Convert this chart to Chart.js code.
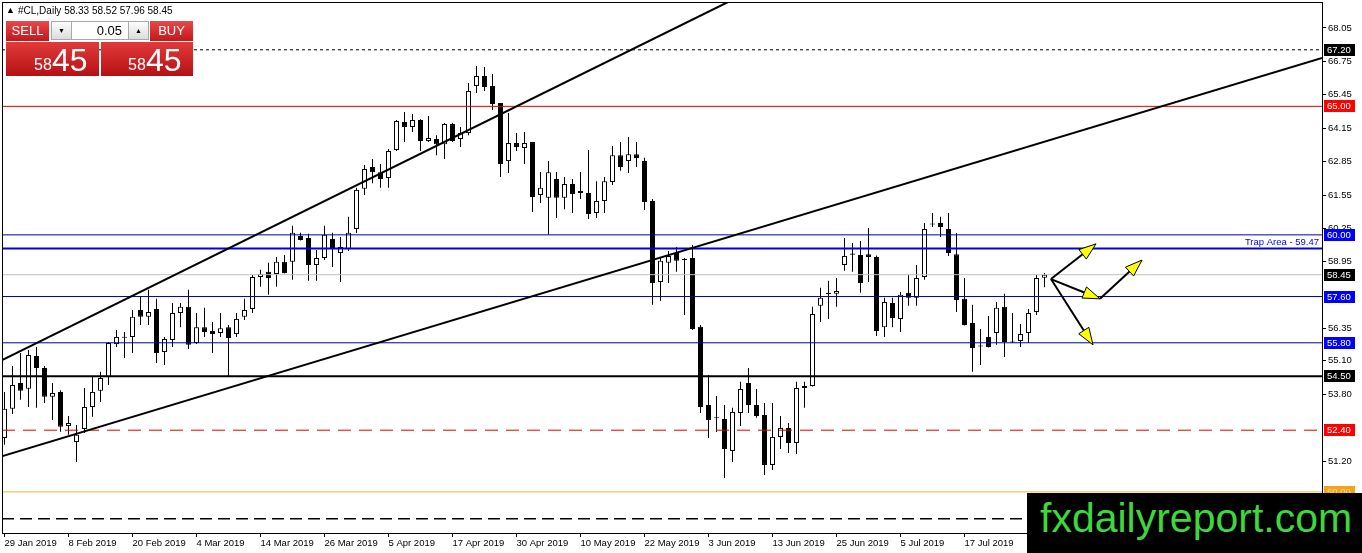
<!DOCTYPE html>
<html>
<head>
<meta charset="utf-8">
<title>#CL,Daily</title>
<script src="https://cdn.jsdelivr.net/npm/chart.js@4.4.1/dist/chart.umd.min.js"></script>
<style>
  html, body { margin: 0; padding: 0; background: #fff; }
  #wrap { position: relative; width: 1362px; height: 553px; overflow: hidden; font-family: "Liberation Sans", Arial, sans-serif; }
  #chart { position: absolute; left: 0; top: 0; }
  .abs { position: absolute; white-space: nowrap; }
  .hdr { font-size: 10px; line-height: 12px; color: #000; }
  .red { background: linear-gradient(#e8494a, #c4161b); color: #fff; }
  .btn { font-size: 13px; line-height: 20px; text-align: center; height: 20px; width: 43px; top: 21px; }
  .grey { top: 21px; height: 17px; width: 19px; border: 1px solid #a8a8a8; background: linear-gradient(#fdfdfd, #dcdcdc); font-size: 7px; line-height: 17px; text-align: center; color: #000; }
  .inp { top: 21px; left: 72px; width: 50px; height: 17px; border: 1px solid #a8a8a8; border-left: none; border-right: none; background: #fff; font-size: 13px; line-height: 17px; text-align: right; padding-right: 6px; color: #000; }
  .big { top: 42px; height: 34px; background: linear-gradient(#e23a3a, #b51114); }
  .small { font-size: 16px; line-height: 16px; color: #fff; top: 57px; }
  .large { font-size: 32px; line-height: 32px; color: #fff; top: 44px; }
  #logo { left: 1027px; top: 493px; width: 335px; height: 60px; background: #000; }
  #logo span { position: absolute; left: 13px; top: 5px; font-size: 41px; line-height: 41px; color: #3cd83c; }
</style>
</head>
<body>
<div id="wrap">
  <canvas id="chart" width="1362" height="553"></canvas>

  <div class="abs hdr" style="left:6px;top:4px;font-size:9px;">&#9650;</div>
  <div class="abs hdr" id="title" style="left:18px;top:5px;"></div>

  <div class="abs red btn" style="left:6px;">SELL</div>
  <div class="abs grey" style="left:51px;">&#9660;</div>
  <div class="abs inp" id="lot"></div>
  <div class="abs grey" style="left:128px;">&#9650;</div>
  <div class="abs red btn" style="left:150px;">BUY</div>
  <div class="abs big" style="left:6px;width:93px;"></div>
  <div class="abs big" style="left:101px;width:92px;"></div>
  <div class="abs small" id="sellHi" style="left:34px;"></div>
  <div class="abs large" id="sellLo" style="left:52px;"></div>
  <div class="abs small" id="buyHi" style="left:128px;"></div>
  <div class="abs large" id="buyLo" style="left:146px;"></div>

  <div class="abs" id="logo"><span>fxdailyreport.com</span></div>
</div>

<script>
// daily bars, 29 Jan - 31 Jul 2019
const dates = [
  '29 Jan 2019','30 Jan 2019','31 Jan 2019',
  '1 Feb 2019','4 Feb 2019','5 Feb 2019','6 Feb 2019','7 Feb 2019','8 Feb 2019','11 Feb 2019','12 Feb 2019','13 Feb 2019','14 Feb 2019',
  '15 Feb 2019','18 Feb 2019','19 Feb 2019','20 Feb 2019','21 Feb 2019','22 Feb 2019','25 Feb 2019','26 Feb 2019','27 Feb 2019','28 Feb 2019',
  '1 Mar 2019','4 Mar 2019','5 Mar 2019','6 Mar 2019','7 Mar 2019','8 Mar 2019','11 Mar 2019','12 Mar 2019','13 Mar 2019','14 Mar 2019',
  '15 Mar 2019','18 Mar 2019','19 Mar 2019','20 Mar 2019','21 Mar 2019','22 Mar 2019','25 Mar 2019','26 Mar 2019','27 Mar 2019','28 Mar 2019','29 Mar 2019',
  '1 Apr 2019','2 Apr 2019','3 Apr 2019','4 Apr 2019','5 Apr 2019','8 Apr 2019','9 Apr 2019','10 Apr 2019','11 Apr 2019','12 Apr 2019',
  '15 Apr 2019','16 Apr 2019','17 Apr 2019','18 Apr 2019','22 Apr 2019','23 Apr 2019','24 Apr 2019','25 Apr 2019','26 Apr 2019','29 Apr 2019','30 Apr 2019',
  '1 May 2019','2 May 2019','3 May 2019','6 May 2019','7 May 2019','8 May 2019','9 May 2019','10 May 2019','13 May 2019','14 May 2019',
  '15 May 2019','16 May 2019','17 May 2019','20 May 2019','21 May 2019','22 May 2019','23 May 2019','24 May 2019','27 May 2019','28 May 2019',
  '29 May 2019','30 May 2019','31 May 2019',
  '3 Jun 2019','4 Jun 2019','5 Jun 2019','6 Jun 2019','7 Jun 2019','10 Jun 2019','11 Jun 2019','12 Jun 2019','13 Jun 2019','14 Jun 2019',
  '17 Jun 2019','18 Jun 2019','19 Jun 2019','20 Jun 2019','21 Jun 2019','24 Jun 2019','25 Jun 2019','26 Jun 2019','27 Jun 2019','28 Jun 2019',
  '1 Jul 2019','2 Jul 2019','3 Jul 2019','4 Jul 2019','5 Jul 2019','8 Jul 2019','9 Jul 2019','10 Jul 2019','11 Jul 2019','12 Jul 2019',
  '15 Jul 2019','16 Jul 2019','17 Jul 2019','18 Jul 2019','19 Jul 2019','22 Jul 2019','23 Jul 2019','24 Jul 2019','25 Jul 2019','26 Jul 2019',
  '29 Jul 2019','30 Jul 2019','31 Jul 2019'
];

const opens = [
  52.10,53.23,54.24,54.01,55.29,54.82,53.70,53.89,52.56,51.94,
  52.45,53.30,53.93,54.47,55.75,56.04,56.03,57.08,56.81,57.12,
  55.44,55.91,56.96,57.20,55.79,56.41,56.26,56.18,56.41,56.14,
  56.81,57.12,58.36,58.56,58.48,58.95,58.95,59.96,59.88,58.83,
  59.10,59.84,59.29,59.45,60.23,61.79,62.64,62.44,62.21,63.30,
  64.39,64.20,64.47,63.65,63.73,63.53,64.31,63.73,63.96,65.79,
  66.18,65.79,65.13,62.87,63.57,63.38,63.61,61.55,61.44,62.17,
  61.44,61.98,61.63,61.63,60.85,61.32,62.06,63.10,62.87,63.14,
  62.87,61.32,58.17,58.91,59.29,59.06,59.10,56.42,53.38,52.90,
  52.84,51.59,53.07,54.24,53.38,52.99,51.05,52.14,52.49,51.90,
  54.04,54.12,57.24,57.70,57.71,58.83,59.27,59.22,59.25,59.14,
  56.41,57.35,56.73,57.75,57.55,58.36,60.44,60.46,60.23,59.25,
  57.51,56.57,55.70,56.03,56.18,57.20,55.81,55.87,56.18,57.00,
  58.33
];
const highs = [
  53.89,54.90,55.40,55.52,55.64,54.90,54.24,53.95,52.95,52.60,
  54.04,54.51,54.67,55.83,56.30,56.22,57.08,57.59,57.86,57.51,
  56.03,57.35,57.35,57.86,56.96,57.16,56.61,56.96,56.49,56.96,
  57.51,58.44,58.64,58.91,59.14,59.22,60.35,60.08,60.04,59.41,
  60.35,60.08,59.92,60.70,61.83,62.72,62.95,62.76,63.34,64.47,
  64.78,64.70,64.50,64.62,63.88,64.35,64.35,64.20,65.91,66.57,
  66.53,66.26,65.13,64.74,63.96,64.00,63.61,62.45,62.87,62.45,
  62.25,62.17,62.45,63.30,62.09,62.25,63.46,63.61,63.81,63.61,
  63.00,61.40,59.10,59.37,59.53,59.10,59.61,56.49,54.55,53.73,
  53.38,53.27,54.28,54.82,54.00,53.46,53.46,52.95,52.68,54.28,
  54.28,57.20,57.94,58.21,58.32,59.88,59.68,59.76,60.27,59.20,
  57.55,57.55,57.78,58.44,58.83,60.46,60.85,60.70,60.85,60.07,
  58.32,57.28,56.34,56.84,57.39,57.71,56.96,56.53,57.12,58.44,
  58.52
];
const lows = [
  51.83,53.03,53.58,53.30,53.27,53.46,52.80,52.34,52.22,51.16,
  52.29,52.92,53.50,54.16,55.64,55.21,55.40,56.49,56.49,55.01,
  54.94,55.64,56.41,55.56,55.75,56.03,55.40,56.03,54.47,56.03,
  56.69,56.96,57.98,57.67,57.98,58.50,58.25,59.78,58.21,58.21,
  59.02,58.75,58.17,59.37,60.07,61.55,62.01,61.83,61.83,63.26,
  63.61,64.00,63.26,63.61,63.10,62.95,63.61,63.42,63.88,65.52,
  65.60,64.86,62.25,62.41,63.26,62.76,60.89,61.24,60.00,60.66,
  61.00,60.85,61.40,60.62,60.66,60.85,61.94,62.49,62.41,62.64,
  60.97,57.28,57.43,58.13,58.56,56.88,56.30,53.07,52.10,52.33,
  50.54,51.16,52.56,53.07,52.88,50.66,50.85,51.67,51.51,51.47,
  53.27,54.10,56.61,56.73,57.20,58.60,58.56,57.75,58.17,56.06,
  56.03,56.41,56.22,57.24,57.24,58.25,60.31,59.92,59.18,57.00,
  56.47,54.67,54.94,55.62,55.72,55.25,55.79,55.64,55.79,56.88,
  57.96
];
const closes = [
  53.23,54.16,53.93,55.33,54.82,53.70,53.85,52.53,52.68,52.22,
  53.30,53.89,54.43,55.79,56.03,56.00,56.81,56.81,57.00,55.40,
  55.95,56.96,57.20,55.72,56.41,56.22,56.14,56.37,55.99,56.73,
  57.08,58.36,58.48,58.32,58.95,58.52,60.08,59.80,58.83,59.10,
  60.00,59.45,59.53,60.08,61.75,62.56,62.44,62.17,63.26,64.43,
  64.20,64.47,63.65,63.77,63.53,64.31,63.65,63.96,65.60,66.18,
  65.75,65.09,62.76,63.57,63.42,63.57,61.47,61.83,62.44,61.44,
  61.98,61.59,61.71,60.81,61.32,62.09,63.10,62.64,63.14,62.99,
  61.28,58.13,58.99,59.18,58.99,59.02,56.34,53.30,52.80,52.86,
  51.67,53.11,54.00,53.38,52.95,51.05,52.14,52.49,51.90,54.04,
  54.12,56.92,57.55,57.75,57.82,59.18,59.23,58.13,59.14,56.26,
  57.39,56.77,57.67,57.55,58.32,60.23,60.40,60.31,59.29,57.47,
  56.49,55.60,55.66,55.64,57.16,55.83,55.85,56.14,56.96,58.32,
  58.45
];

// axis ticks
const priceTicks = [68.05, 66.75, 65.45, 64.15, 62.85, 61.55, 60.25, 58.95, 56.35, 55.10, 53.80, 51.20];
const dateTickBars = [0, 8, 16, 24, 32, 40, 48, 56, 64, 72, 80, 88, 96, 104, 112, 120, 128];

// horizontal levels drawn on the chart
const levels = [67.20, 65.00, 60.00, 59.47, 58.45, 57.60, 55.80, 54.50, 52.40, 50.00, 48.95];
const trapLevel = 59.47;
const lotSize = 0.05;

// trend lines: [bar, price] pairs
const upperChannel = [[-0.56, 55.09], [90.44, 69.06]];
const lowerChannel = [[-0.56, 51.36], [164.69, 66.88]];

// scenario arrows: [fromBar, fromPrice, toBar, toPrice]
const arrows = [
  [130.81, 58.28, 136.44, 59.65],
  [130.81, 58.28, 136.94, 57.51],
  [136.94, 57.51, 142.19, 59.02],
  [130.81, 58.28, 136.06, 55.72]
];

const X_MIN = -0.3125, X_MAX = 164.6875;
const Y_MIN = 48.40, Y_MAX = 69.06;

// line look for each level (same order as levels)
const levelStyle = [
  { color: '#000000', width: 1,   dash: [3, 3],  box: '#000000', text: '#ffffff' },
  { color: '#e00000', width: 1,   dash: [],      box: '#ff0000', text: '#ffffff' },
  { color: '#0000b4', width: 1,   dash: [],      box: '#0000ff', text: '#ffffff' },
  { color: '#0000e6', width: 2,   dash: [],      box: null },
  { color: '#c0c0c0', width: 1,   dash: [],      box: '#000000', text: '#ffffff' },
  { color: '#0000a0', width: 1,   dash: [],      box: '#0000ff', text: '#ffffff' },
  { color: '#0000a0', width: 1,   dash: [],      box: '#0000ff', text: '#ffffff' },
  { color: '#000000', width: 2,   dash: [],      box: '#000000', text: '#ffffff' },
  { color: '#e00000', width: 1,   dash: [13, 8], box: '#ff0000', text: '#ffffff' },
  { color: '#f0b42a', width: 1,   dash: [],      box: '#f5a21c', text: '#ffdd8a' },
  { color: '#000000', width: 1.5, dash: [12, 6], box: null }
];

// header and trade panel texts come from the last bar
const last = closes.length - 1;
document.getElementById('title').textContent = '#CL,Daily  ' +
  [opens[last], highs[last], lows[last], closes[last]].map(v => v.toFixed(2)).join(' ');
document.getElementById('lot').textContent = lotSize.toFixed(2);
const bidText = closes[last].toFixed(2).replace('.', '');
['sell', 'buy'].forEach(k => {
  document.getElementById(k + 'Hi').textContent = bidText.slice(0, 2);
  document.getElementById(k + 'Lo').textContent = bidText.slice(2);
});

Chart.defaults.font.family = '"Liberation Sans", Arial, sans-serif';
Chart.defaults.font.size = 9.5;
Chart.defaults.color = '#000';

const datasets = [];

// wicks
datasets.push({
  type: 'bar',
  data: dates.map((d, i) => ({ x: i, y: [lows[i], highs[i]] })),
  barThickness: 1,
  grouped: false,
  backgroundColor: '#000',
  borderWidth: 0,
  inflateAmount: 0,
  order: 20
});
// bodies
datasets.push({
  type: 'bar',
  data: dates.map((d, i) => ({ x: i, y: [opens[i], closes[i]] })),
  barThickness: 5,
  grouped: false,
  backgroundColor: ctx => closes[ctx.dataIndex] >= opens[ctx.dataIndex] ? '#ffffff' : '#000000',
  borderColor: '#000',
  borderWidth: 1,
  borderSkipped: false,
  inflateAmount: 0,
  order: 19
});

levels.forEach((v, k) => {
  const s = levelStyle[k];
  datasets.push({
    type: 'line',
    data: [{ x: X_MIN, y: v }, { x: X_MAX, y: v }],
    borderColor: s.color,
    borderWidth: s.width,
    borderDash: s.dash,
    pointRadius: 0,
    order: 5
  });
});

[upperChannel, lowerChannel].forEach(l => {
  datasets.push({
    type: 'line',
    data: l.map(p => ({ x: p[0], y: p[1] })),
    borderColor: '#000',
    borderWidth: 2,
    pointRadius: 0,
    order: 2
  });
});

function drawArrow(ctx, x1, y1, x2, y2) {
  const a = Math.atan2(y2 - y1, x2 - x1);
  const len = 17, hw = 6;
  const bx = x2 - Math.cos(a) * len, by = y2 - Math.sin(a) * len;
  ctx.strokeStyle = '#000';
  ctx.lineWidth = 2;
  ctx.beginPath();
  ctx.moveTo(x1, y1);
  ctx.lineTo(bx, by);
  ctx.stroke();
  ctx.beginPath();
  ctx.moveTo(x2, y2);
  ctx.lineTo(bx - Math.sin(a) * hw, by + Math.cos(a) * hw);
  ctx.lineTo(bx + Math.sin(a) * hw, by - Math.cos(a) * hw);
  ctx.closePath();
  ctx.fillStyle = '#ffff00';
  ctx.fill();
  ctx.lineWidth = 1;
  ctx.stroke();
}

const overlay = {
  id: 'overlay',
  afterDatasetsDraw(chart) {
    const { ctx, scales: { x, y } } = chart;
    ctx.save();
    arrows.forEach(a => {
      drawArrow(ctx, x.getPixelForValue(a[0]), y.getPixelForValue(a[1]),
                     x.getPixelForValue(a[2]), y.getPixelForValue(a[3]));
    });
    ctx.restore();
  },
  afterDraw(chart) {
    const { ctx, chartArea: ca, scales: { y } } = chart;
    ctx.save();
    // frame
    ctx.strokeStyle = '#000';
    ctx.lineWidth = 1;
    ctx.strokeRect(ca.left + 0.5, ca.top + 0.5, ca.right - ca.left, ca.bottom - ca.top);

    // price boxes on the right axis
    ctx.font = '9.5px "Liberation Sans", Arial, sans-serif';
    ctx.textBaseline = 'middle';
    ctx.textAlign = 'left';
    levels.forEach((v, k) => {
      const s = levelStyle[k];
      if (!s.box) return;
      const py = Math.round(y.getPixelForValue(v));
      ctx.fillStyle = s.box;
      ctx.fillRect(ca.right + 2, py - 6, 31, 12);
      ctx.fillStyle = s.text;
      ctx.fillText(v.toFixed(2), ca.right + 5, py + 0.5);
    });

    // trap area caption
    const ty = y.getPixelForValue(trapLevel);
    ctx.fillStyle = '#0000ff';
    ctx.textAlign = 'right';
    ctx.textBaseline = 'alphabetic';
    ctx.fillText('Trap Area - ' + trapLevel.toFixed(2), ca.right - 3, ty - 3);
    ctx.restore();
  }
};

new Chart(document.getElementById('chart').getContext('2d'), {
  type: 'bar',
  data: { datasets: datasets },
  options: {
    responsive: false,
    animation: false,
    events: [],
    layout: { padding: { left: 2, top: 2, right: 0, bottom: 0 } },
    plugins: { legend: { display: false }, tooltip: { enabled: false } },
    scales: {
      x: {
        type: 'linear',
        min: X_MIN,
        max: X_MAX,
        offset: false,
        border: { display: false },
        grid: { display: true, drawOnChartArea: false, drawTicks: true, tickLength: 4, color: '#000', offset: false },
        ticks: {
          autoSkip: false,
          maxRotation: 0,
          align: 'start',
          padding: 1,
          color: '#000',
          callback: v => dates[v] || ''
        },
        afterBuildTicks: s => { s.ticks = dateTickBars.map(v => ({ value: v })); },
        afterFit: s => { s.height = 20; s.paddingLeft = 0; s.paddingRight = 0; s.paddingTop = 0; s.paddingBottom = 0; }
      },
      y: {
        type: 'linear',
        position: 'right',
        min: Y_MIN,
        max: Y_MAX,
        border: { display: false },
        grid: { display: true, drawOnChartArea: false, drawTicks: true, tickLength: 4, color: '#000' },
        ticks: {
          padding: 2,
          color: '#000',
          callback: v => Number(v).toFixed(2)
        },
        afterBuildTicks: s => { s.ticks = priceTicks.map(v => ({ value: v })); },
        afterFit: s => { s.width = 40; s.paddingLeft = 0; s.paddingRight = 0; s.paddingTop = 0; s.paddingBottom = 0; }
      }
    }
  },
  plugins: [overlay]
});
</script>
</body>
</html>
